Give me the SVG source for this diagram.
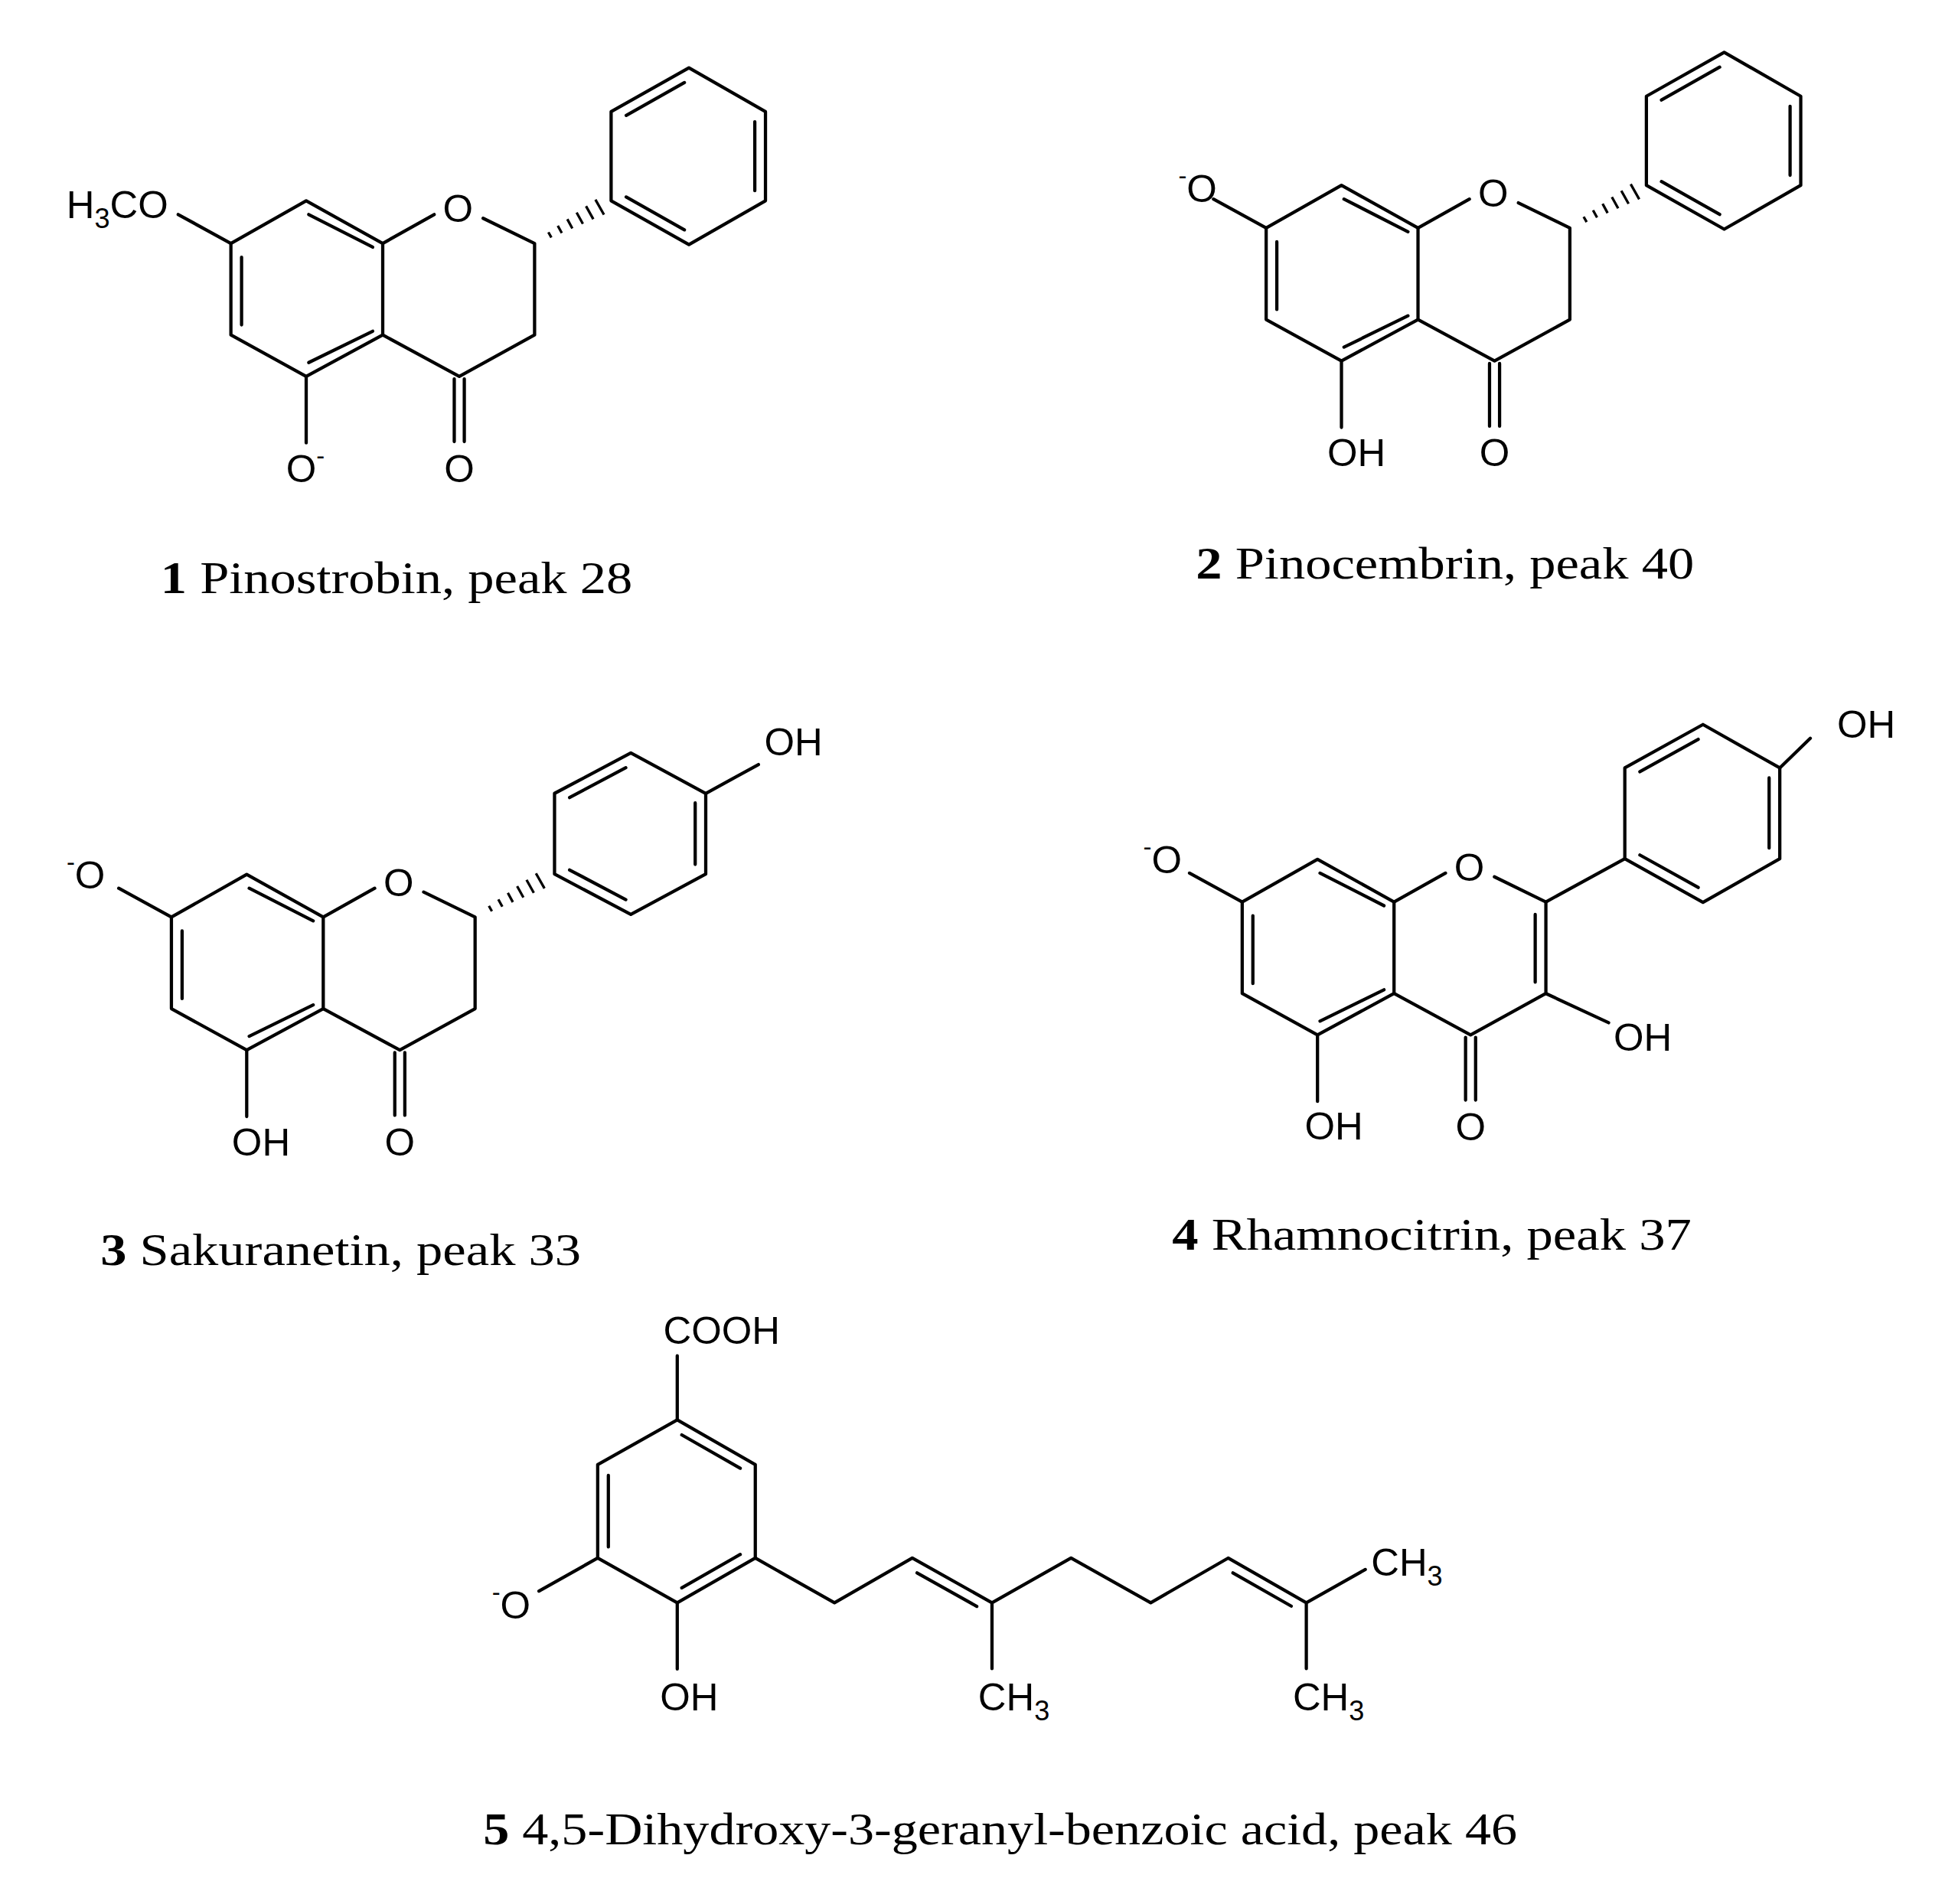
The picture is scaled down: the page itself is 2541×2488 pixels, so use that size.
<svg xmlns="http://www.w3.org/2000/svg" xmlns:xlink="http://www.w3.org/1999/xlink" width="2541" height="2488" viewBox="0 0 2541 2488">
<style>
.b{stroke:#000;stroke-width:2.6;fill:none;stroke-linecap:round;stroke-linejoin:round}
.h{stroke:#000;stroke-width:2;fill:none}
.c{font-family:"Liberation Sans",Arial,sans-serif;font-size:31px;fill:#000}
.l{font-family:"Liberation Serif","Times New Roman",serif;font-size:36px;fill:#000}
.n{font-weight:bold}
</style>
<defs>
<g id="core">
<path class="b" d="M184,194 L244,160 L305,194 L305,267 L244,300 L184,267 Z"/>
<path class="b" d="M246,171 L297,197 M192.5,205 L192.5,259 M246,289 L297,264"/>
<path class="b" d="M305,194 L346,171 M385,174 L426,194 L426,267 L366,300 L305,267"/>
<path class="b" d="M362,302 L362,352 M370,302 L370,352"/>
<path class="b" d="M244,300 L244,353 M184,194 L142,171"/>
<text class="c" x="365" y="177" text-anchor="middle">O</text>
<text class="c" x="366" y="384" text-anchor="middle">O</text>
</g>
<g id="hash">
<path class="h" d="M437,185.1 L439.4,189.3 M444.5,179.9 L447.7,185.7 M452.1,174.7 L456.1,182.1 M459.5,169.4 L464.5,178.4 M467,164.3 L472.8,174.7 M474.5,159.1 L481.3,171.1"/>
</g>
<g id="phenyl">
<path class="b" d="M487,160 L487,89 L549,54 L610,89 L610,160 L549,195 Z"/>
<path class="b" d="M499,92 L545.4,65.8 M601.5,97 L601.5,152 M545.4,183.2 L499,157"/>
</g>
</defs>
<rect width="2541" height="2488" fill="#fff"/>
<g transform="scale(1.6394)">
<g id="compound1">
<use xlink:href="#core"/><use xlink:href="#hash"/><use xlink:href="#phenyl"/>
<text class="c" x="134" y="174" text-anchor="end">H<tspan font-size="22" dy="8">3</tspan><tspan dy="-8">CO</tspan></text>
<text class="c" x="228" y="384">O<tspan font-size="20" dy="-14">-</tspan></text>
<text class="l" x="128" y="473" textLength="376" lengthAdjust="spacingAndGlyphs"><tspan class="n">1</tspan>  Pinostrobin, peak 28</text>
</g>
<g id="compound2">
<g transform="translate(825,-12.3)">
<use xlink:href="#core"/><use xlink:href="#hash"/><use xlink:href="#phenyl"/>
<text class="c" x="256" y="384" text-anchor="middle">OH</text>
</g>
<text class="c" x="947" y="161"><tspan font-size="20" dy="-14" dx="-8">-</tspan><tspan dy="14">O</tspan></text>
<text class="l" x="953" y="461" textLength="397" lengthAdjust="spacingAndGlyphs"><tspan class="n">2</tspan>  Pinocembrin, peak 40</text>
</g>
<g id="compound3">
<g transform="translate(-47.4,537)">
<use xlink:href="#core"/><use xlink:href="#hash"/>
<text class="c" x="255.4" y="384" text-anchor="middle">OH</text>
</g>
<path class="b" d="M441.9,696.7 L441.9,632.4 L502.7,600.2 L562.4,632.4 L562.4,696.7 L502.7,728.8 Z"/>
<path class="b" d="M453.9,635.7 L498.7,611.9 M554,640 L554,689 M498.7,717.1 L453.9,693.4 M562.4,632.4 L604.4,609.4"/>
<text class="c" x="609" y="602">OH</text>
<text class="c" x="61" y="708"><tspan font-size="20" dy="-14" dx="-8">-</tspan><tspan dy="14">O</tspan></text>
<text class="l" x="80" y="1008" textLength="383" lengthAdjust="spacingAndGlyphs"><tspan class="n">3</tspan>  Sakuranetin, peak 33</text>
</g>
<g id="compound4">
<g transform="translate(805.9,524.9)">
<use xlink:href="#core"/>
<path class="b" d="M417.5,204 L417.5,258 M426,267 L476,290.3 M426,194 L488.9,159.6"/>
<text class="c" x="480" y="312.4">OH</text>
<text class="c" x="257" y="383.5" text-anchor="middle">OH</text>
</g>
<path class="b" d="M1294.8,684.5 L1294.8,612.1 L1357.1,577.5 L1418.3,612.1 L1418.3,684.5 L1357.1,719.2 Z"/>
<path class="b" d="M1306.8,615.1 L1353.3,589.3 M1409.8,620 L1409.8,676 M1353.3,707.4 L1306.8,681.5 M1418.3,612.1 L1442.6,588.5"/>
<text class="c" x="1464" y="588">OH</text>
<text class="c" x="919" y="696"><tspan font-size="20" dy="-14" dx="-8">-</tspan><tspan dy="14">O</tspan></text>
<text class="l" x="934" y="996" textLength="414" lengthAdjust="spacingAndGlyphs"><tspan class="n">4</tspan>  Rhamnocitrin, peak 37</text>
</g>
<g id="compound5">
<path class="b" d="M539.7,1131.8 L601.9,1167.4 L601.9,1241.9 L539.7,1277.5 L476.3,1241.9 L476.3,1167.4 Z"/>
<path class="b" d="M543.3,1143.7 L589.9,1170.3 M589.9,1239 L543.3,1265.6 M484.8,1176 L484.8,1233"/>
<path class="b" d="M539.7,1131.8 L539.7,1080.6 M476.3,1241.9 L429.5,1268.2 M539.7,1277.5 L539.7,1330.3"/>
<path class="b" d="M601.9,1241.9 L665,1277.5 L727,1241.9 L790.5,1277.5 L853.5,1241.9 L917,1277.5 L978.7,1241.9 L1041,1277.5 L1088,1251 M790.5,1277.5 L790.5,1330 M1041,1277.5 L1041,1330"/>
<path class="b" d="M730.8,1253.7 L778.4,1280.4 M982.5,1253.7 L1029,1280.2"/>
<text class="c" x="528.6" y="1071">COOH</text>
<text class="c" x="400" y="1290"><tspan font-size="20" dy="-14" dx="-8">-</tspan><tspan dy="14">O</tspan></text>
<text class="c" x="526" y="1363">OH</text>
<text class="c" x="1092.6" y="1256">CH<tspan font-size="22" dy="8">3</tspan></text>
<text class="c" x="779.4" y="1363">CH<tspan font-size="22" dy="8">3</tspan></text>
<text class="c" x="1030.2" y="1363">CH<tspan font-size="22" dy="8">3</tspan></text>
<text class="l" x="385" y="1470" textLength="824" lengthAdjust="spacingAndGlyphs"><tspan class="n">5</tspan>  4,5-Dihydroxy-3-geranyl-benzoic acid, peak 46</text>
</g>
</g>
</svg>
